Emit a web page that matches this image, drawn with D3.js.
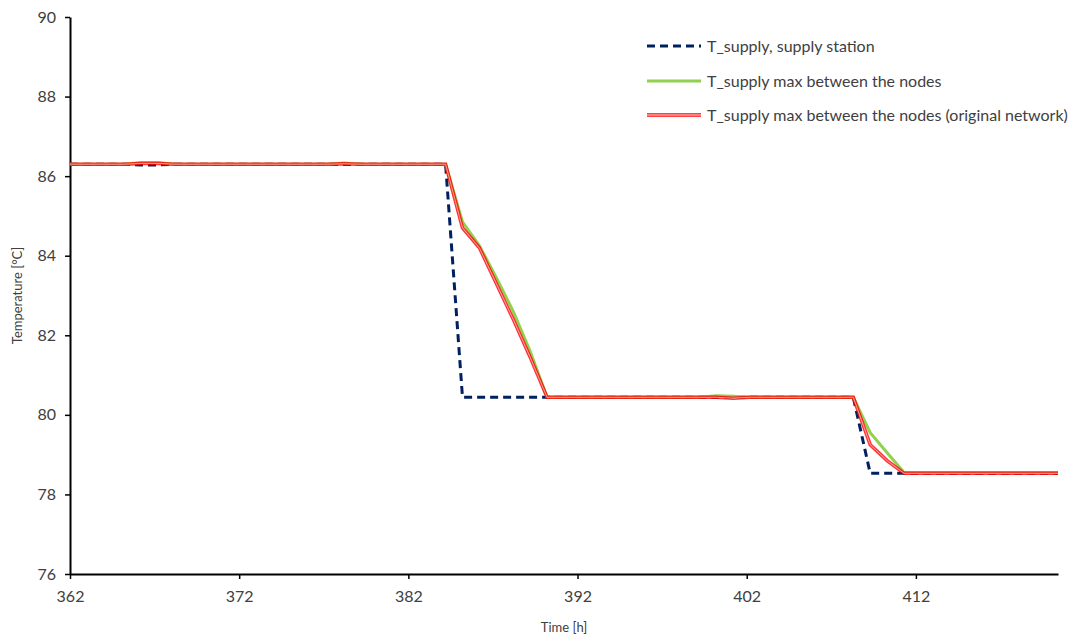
<!DOCTYPE html>
<html>
<head>
<meta charset="utf-8">
<script src="https://cdn.jsdelivr.net/npm/d3@7"></script>
<style>
  body { margin: 0; background: #fff; }
  svg text { font-family: Lato, "Open Sans", sans-serif; fill: #404040; }
</style>
</head>
<body>
<div id="chart"></div>
<script>
// hours (points sit a little after the whole hour)
const supplyTimes = [362, 365.2, 366.2, 367.2, 368.2, 377.2, 378.2, 379.2, 384.2, 385.2, 408.3, 409.3, 420.4];
const supplyValues = [86.3, 86.3, 86.28, 86.28, 86.3, 86.3, 86.29, 86.3, 86.3, 80.44, 80.44, 78.53, 78.53];

const maxTimes = [362, 365.2, 366.2, 367.2, 368.2, 377.2, 378.2, 379.2, 384.2, 385.2, 386.2, 387.2, 388.2, 389.2, 390.2, 399.2, 400.2, 401.2, 402.2, 408.3, 409.3, 410.3, 411.3, 420.4];
const maxValues = [86.3, 86.3, 86.34, 86.34, 86.3, 86.3, 86.33, 86.3, 86.3, 84.85, 84.25, 83.45, 82.6, 81.6, 80.44, 80.44, 80.48, 80.47, 80.44, 80.44, 79.55, 79.05, 78.55, 78.55];
const origValues = [86.3, 86.3, 86.32, 86.32, 86.3, 86.3, 86.31, 86.3, 86.3, 84.7, 84.2, 83.3, 82.4, 81.45, 80.44, 80.44, 80.44, 80.42, 80.44, 80.44, 79.25, 78.85, 78.53, 78.53];

const xTicks = [362, 372, 382, 392, 402, 412];
const yTicks = [76, 78, 80, 82, 84, 86, 88, 90];
const legendLabels = [
  "T_supply, supply station",
  "T_supply max between the nodes",
  "T_supply max between the nodes (original network)"
];

const width = 1072, height = 639;
const svg = d3.select("#chart").append("svg")
  .attr("width", width)
  .attr("height", height);

const x = d3.scaleLinear().domain([362, 420.4]).range([70, 1058]);
const y = d3.scaleLinear().domain([76, 90]).range([574, 17]);

// axes
const xAxis = svg.append("g")
  .attr("transform", `translate(0, ${y(76)})`)
  .call(d3.axisBottom(x).tickValues(xTicks).tickSize(5).tickPadding(12).tickSizeOuter(0));
const yAxis = svg.append("g")
  .attr("transform", `translate(${x(362)}, 0)`)
  .call(d3.axisLeft(y).tickValues(yTicks).tickSize(5).tickPadding(9).tickSizeOuter(0));

[xAxis, yAxis].forEach(g => {
  g.select(".domain").attr("stroke", "#000").attr("stroke-width", 2);
  g.selectAll(".tick line").attr("stroke", "#000").attr("stroke-width", 1.5);
  g.selectAll(".tick text").style("font-size", "16px").attr("fill", "#404040");
});

svg.append("text")
  .attr("x", (70 + 1058) / 2).attr("y", 632)
  .attr("text-anchor", "middle")
  .style("font-size", "13px")
  .text("Time [h]");

svg.append("text")
  .attr("transform", `translate(22, ${y(83)}) rotate(-90)`)
  .attr("text-anchor", "middle")
  .style("font-size", "13px")
  .text("Temperature [°C]");

const line = d3.line().x(d => x(d[0])).y(d => y(d[1]));

const supply = d3.zip(supplyTimes, supplyValues);
const maxNodes = d3.zip(maxTimes, maxValues);
const orig = d3.zip(maxTimes, origValues);

svg.append("path").datum(supply).attr("d", line)
  .attr("fill", "none").attr("stroke", "#002060").attr("stroke-width", 3)
  .attr("stroke-dasharray", "8,5");

svg.append("path").datum(maxNodes).attr("d", line)
  .attr("fill", "none").attr("stroke", "#92D050").attr("stroke-width", 3);

// red double line
svg.append("path").datum(orig).attr("d", line)
  .attr("fill", "none").attr("stroke", "#FF0000").attr("stroke-width", 3.5)
  .attr("stroke-opacity", 0.8);
svg.append("path").datum(orig).attr("d", line)
  .attr("fill", "none").attr("stroke", "#FFFFFF").attr("stroke-width", 0.8)
  .attr("stroke-opacity", 0.7);

// legend
const legend = svg.append("g");
const rowsY = [46, 81, 115];
legendLabels.forEach((label, i) => {
  const ly = rowsY[i];
  if (i === 0) {
    legend.append("line").attr("x1", 647).attr("x2", 701).attr("y1", ly).attr("y2", ly)
      .attr("stroke", "#002060").attr("stroke-width", 3).attr("stroke-dasharray", "8,5");
  } else if (i === 1) {
    legend.append("line").attr("x1", 647).attr("x2", 701).attr("y1", ly).attr("y2", ly)
      .attr("stroke", "#92D050").attr("stroke-width", 3);
  } else {
    legend.append("line").attr("x1", 647).attr("x2", 701).attr("y1", ly).attr("y2", ly)
      .attr("stroke", "#FF0000").attr("stroke-width", 3.5);
    legend.append("line").attr("x1", 647).attr("x2", 701).attr("y1", ly).attr("y2", ly)
      .attr("stroke", "#FFFFFF").attr("stroke-width", 1);
  }
  legend.append("text")
    .attr("x", 707).attr("y", ly)
    .attr("dy", "0.35em")
    .style("font-size", "16px")
    .text(label);
});
</script>
</body>
</html>
